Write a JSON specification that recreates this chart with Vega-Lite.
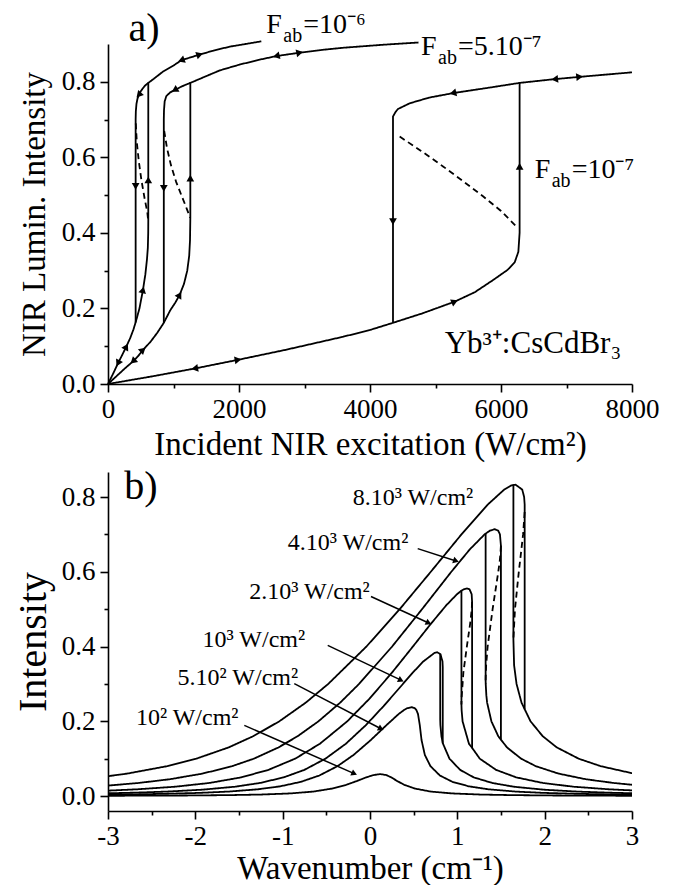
{
"$schema":"https://vega.github.io/schema/vega-lite/v6.json",
"padding":{"left":13,"top":8,"right":5,"bottom":0},
"spacing":5,
"config":{"font":"Liberation Serif","view":{"stroke":null},
"axis":{"grid":false,"domainColor":"black","domainWidth":1.6,"tickColor":"black","tickWidth":1.6,"labelColor":"black","titleColor":"black","labelFontSize":27,"titleFontSize":33,"titleFontWeight":"normal","labelFont":"Liberation Serif","titleFont":"Liberation Serif","labelFlush":false,"labelOverlap":false,"labelPadding":4}},
"datasets":{
"aCurves":[
{"s":"6A","b":"stable","i":0,"x":0,"y":0},{"s":"6A","b":"stable","i":1,"x":80,"y":0.028},{"s":"6A","b":"stable","i":2,"x":153,"y":0.055},{"s":"6A","b":"stable","i":3,"x":220,"y":0.078},{"s":"6A","b":"stable","i":4,"x":280,"y":0.099},{"s":"6A","b":"stable","i":5,"x":340,"y":0.122},{"s":"6A","b":"stable","i":6,"x":390,"y":0.145},{"s":"6A","b":"stable","i":7,"x":433,"y":0.17},{"s":"6A","b":"stable","i":8,"x":480,"y":0.2},{"s":"6A","b":"stable","i":9,"x":534,"y":0.249},{"s":"6A","b":"stable","i":10,"x":570,"y":0.29},{"s":"6A","b":"stable","i":11,"x":595,"y":0.33},{"s":"6A","b":"stable","i":12,"x":608,"y":0.36},{"s":"6A","b":"stable","i":13,"x":614,"y":0.4},{"s":"6A","b":"stable","i":14,"x":615,"y":0.43},{"s":"6A","b":"stable","i":15,"x":615,"y":0.797},{"s":"6A","b":"stable","i":16,"x":700,"y":0.808},{"s":"6A","b":"stable","i":17,"x":840,"y":0.827},{"s":"6A","b":"stable","i":18,"x":1000,"y":0.843},{"s":"6A","b":"stable","i":19,"x":1119,"y":0.857},{"s":"6A","b":"stable","i":20,"x":1400,"y":0.872},{"s":"6A","b":"stable","i":21,"x":1600,"y":0.882},{"s":"6A","b":"stable","i":22,"x":1858,"y":0.893},{"s":"6A","b":"stable","i":23,"x":2100,"y":0.9},{"s":"6A","b":"stable","i":24,"x":2341,"y":0.907},
{"s":"6B","b":"stable","i":0,"x":422,"y":0.163},{"s":"6B","b":"stable","i":1,"x":422,"y":0.7},{"s":"6B","b":"stable","i":2,"x":425,"y":0.722},{"s":"6B","b":"stable","i":3,"x":435,"y":0.742},{"s":"6B","b":"stable","i":4,"x":450,"y":0.755},{"s":"6B","b":"stable","i":5,"x":470,"y":0.765},{"s":"6B","b":"stable","i":6,"x":500,"y":0.775},{"s":"6B","b":"stable","i":7,"x":560,"y":0.789},{"s":"6B","b":"stable","i":8,"x":615,"y":0.797},
{"s":"6C","b":"unstable","i":0,"x":424,"y":0.69},{"s":"6C","b":"unstable","i":1,"x":440,"y":0.64},{"s":"6C","b":"unstable","i":2,"x":470,"y":0.59},{"s":"6C","b":"unstable","i":3,"x":510,"y":0.54},{"s":"6C","b":"unstable","i":4,"x":560,"y":0.49},{"s":"6C","b":"unstable","i":5,"x":600,"y":0.455},{"s":"6C","b":"unstable","i":6,"x":615,"y":0.43},
{"s":"5A","b":"stable","i":0,"x":0,"y":0},{"s":"5A","b":"stable","i":1,"x":150,"y":0.024},{"s":"5A","b":"stable","i":2,"x":250,"y":0.04},{"s":"5A","b":"stable","i":3,"x":382,"y":0.06},{"s":"5A","b":"stable","i":4,"x":460,"y":0.074},{"s":"5A","b":"stable","i":5,"x":534,"y":0.09},{"s":"5A","b":"stable","i":6,"x":650,"y":0.112},{"s":"5A","b":"stable","i":7,"x":750,"y":0.135},{"s":"5A","b":"stable","i":8,"x":852,"y":0.162},{"s":"5A","b":"stable","i":9,"x":950,"y":0.195},{"s":"5A","b":"stable","i":10,"x":1030,"y":0.216},{"s":"5A","b":"stable","i":11,"x":1094,"y":0.236},{"s":"5A","b":"stable","i":12,"x":1160,"y":0.265},{"s":"5A","b":"stable","i":13,"x":1210,"y":0.3},{"s":"5A","b":"stable","i":14,"x":1240,"y":0.34},{"s":"5A","b":"stable","i":15,"x":1252,"y":0.38},{"s":"5A","b":"stable","i":16,"x":1257,"y":0.44},{"s":"5A","b":"stable","i":17,"x":1257,"y":0.797},{"s":"5A","b":"stable","i":18,"x":1500,"y":0.815},{"s":"5A","b":"stable","i":19,"x":1705,"y":0.83},{"s":"5A","b":"stable","i":20,"x":2000,"y":0.845},{"s":"5A","b":"stable","i":21,"x":2300,"y":0.858},{"s":"5A","b":"stable","i":22,"x":2570,"y":0.868},{"s":"5A","b":"stable","i":23,"x":2926,"y":0.877},{"s":"5A","b":"stable","i":24,"x":3300,"y":0.885},{"s":"5A","b":"stable","i":25,"x":3588,"y":0.89},{"s":"5A","b":"stable","i":26,"x":4200,"y":0.898},{"s":"5A","b":"stable","i":27,"x":4740,"y":0.904},
{"s":"5B","b":"stable","i":0,"x":852,"y":0.162},{"s":"5B","b":"stable","i":1,"x":852,"y":0.7},{"s":"5B","b":"stable","i":2,"x":855,"y":0.725},{"s":"5B","b":"stable","i":3,"x":865,"y":0.748},{"s":"5B","b":"stable","i":4,"x":890,"y":0.762},{"s":"5B","b":"stable","i":5,"x":950,"y":0.772},{"s":"5B","b":"stable","i":6,"x":1018,"y":0.778},{"s":"5B","b":"stable","i":7,"x":1130,"y":0.788},{"s":"5B","b":"stable","i":8,"x":1257,"y":0.797},
{"s":"5C","b":"unstable","i":0,"x":858,"y":0.67},{"s":"5C","b":"unstable","i":1,"x":900,"y":0.625},{"s":"5C","b":"unstable","i":2,"x":960,"y":0.58},{"s":"5C","b":"unstable","i":3,"x":1040,"y":0.535},{"s":"5C","b":"unstable","i":4,"x":1120,"y":0.5},{"s":"5C","b":"unstable","i":5,"x":1200,"y":0.465},{"s":"5C","b":"unstable","i":6,"x":1255,"y":0.44},
{"s":"7A","b":"stable","i":0,"x":0,"y":0},{"s":"7A","b":"stable","i":1,"x":700,"y":0.021},{"s":"7A","b":"stable","i":2,"x":1324,"y":0.041},{"s":"7A","b":"stable","i":3,"x":1985,"y":0.064},{"s":"7A","b":"stable","i":4,"x":2700,"y":0.09},{"s":"7A","b":"stable","i":5,"x":3588,"y":0.125},{"s":"7A","b":"stable","i":6,"x":4000,"y":0.143},{"s":"7A","b":"stable","i":7,"x":4351,"y":0.162},{"s":"7A","b":"stable","i":8,"x":4800,"y":0.187},{"s":"7A","b":"stable","i":9,"x":5293,"y":0.218},{"s":"7A","b":"stable","i":10,"x":5600,"y":0.243},{"s":"7A","b":"stable","i":11,"x":5878,"y":0.275},{"s":"7A","b":"stable","i":12,"x":6100,"y":0.302},{"s":"7A","b":"stable","i":13,"x":6209,"y":0.322},{"s":"7A","b":"stable","i":14,"x":6265,"y":0.35},{"s":"7A","b":"stable","i":15,"x":6284,"y":0.4},{"s":"7A","b":"stable","i":16,"x":6284,"y":0.797},{"s":"7A","b":"stable","i":17,"x":6820,"y":0.807},{"s":"7A","b":"stable","i":18,"x":7200,"y":0.813},{"s":"7A","b":"stable","i":19,"x":7600,"y":0.819},{"s":"7A","b":"stable","i":20,"x":8000,"y":0.825},
{"s":"7B","b":"stable","i":0,"x":4351,"y":0.162},{"s":"7B","b":"stable","i":1,"x":4351,"y":0.708},{"s":"7B","b":"stable","i":2,"x":4390,"y":0.72},{"s":"7B","b":"stable","i":3,"x":4427,"y":0.728},{"s":"7B","b":"stable","i":4,"x":4606,"y":0.743},{"s":"7B","b":"stable","i":5,"x":4900,"y":0.758},{"s":"7B","b":"stable","i":6,"x":5267,"y":0.77},{"s":"7B","b":"stable","i":7,"x":5878,"y":0.786},{"s":"7B","b":"stable","i":8,"x":6284,"y":0.797},
{"s":"7C","b":"unstable","i":0,"x":4453,"y":0.655},{"s":"7C","b":"unstable","i":1,"x":4780,"y":0.617},{"s":"7C","b":"unstable","i":2,"x":5115,"y":0.576},{"s":"7C","b":"unstable","i":3,"x":5420,"y":0.537},{"s":"7C","b":"unstable","i":4,"x":5725,"y":0.497},{"s":"7C","b":"unstable","i":5,"x":6000,"y":0.458},{"s":"7C","b":"unstable","i":6,"x":6234,"y":0.417}
],
"aArrows":[
{"x":153,"y":0.055,"dir":206},{"x":280,"y":0.099,"dir":28},{"x":534,"y":0.249,"dir":14},{"x":422,"y":0.523,"dir":180},{"x":615,"y":0.54,"dir":0},{"x":470,"y":0.765,"dir":222},{"x":1119,"y":0.857,"dir":250},{"x":1400,"y":0.872,"dir":72},
{"x":382,"y":0.06,"dir":228},{"x":534,"y":0.09,"dir":48},{"x":1094,"y":0.236,"dir":30},{"x":852,"y":0.518,"dir":180},{"x":1257,"y":0.545,"dir":0},{"x":1018,"y":0.778,"dir":240},{"x":2570,"y":0.868,"dir":257},{"x":2926,"y":0.877,"dir":79},
{"x":1324,"y":0.041,"dir":260},{"x":1985,"y":0.064,"dir":80},{"x":5293,"y":0.218,"dir":67},{"x":4351,"y":0.43,"dir":180},{"x":6284,"y":0.576,"dir":0},{"x":5267,"y":0.77,"dir":257},{"x":6820,"y":0.807,"dir":264},{"x":7200,"y":0.813,"dir":84}
],
"aF":[{"x":2417,"y":0.929,"t":"=10⁻⁶"},{"x":4779,"y":0.872,"t":"=5.10⁻⁷"},{"x":6514,"y":0.545,"t":"=10⁻⁷"}],
"bCurves":[
{"s":"8A","b":"stable","i":0,"x":-3.1,"y":0.05},{"s":"8A","b":"stable","i":1,"x":-2.782,"y":0.06},{"s":"8A","b":"stable","i":2,"x":-2.321,"y":0.08},{"s":"8A","b":"stable","i":3,"x":-1.989,"y":0.1},{"s":"8A","b":"stable","i":4,"x":-1.62,"y":0.13},{"s":"8A","b":"stable","i":5,"x":-1.338,"y":0.16},{"s":"8A","b":"stable","i":6,"x":-1.038,"y":0.2},{"s":"8A","b":"stable","i":7,"x":-0.735,"y":0.25},{"s":"8A","b":"stable","i":8,"x":-0.478,"y":0.3},{"s":"8A","b":"stable","i":9,"x":-0.041,"y":0.4},{"s":"8A","b":"stable","i":10,"x":0.34,"y":0.5},{"s":"8A","b":"stable","i":11,"x":0.696,"y":0.6},{"s":"8A","b":"stable","i":12,"x":1.047,"y":0.7},{"s":"8A","b":"stable","i":13,"x":1.349,"y":0.78},{"s":"8A","b":"stable","i":14,"x":1.537,"y":0.82},{"s":"8A","b":"stable","i":15,"x":1.609,"y":0.83},{"s":"8A","b":"stable","i":16,"x":1.632,"y":0.832},{"s":"8A","b":"stable","i":17,"x":1.667,"y":0.833},{"s":"8A","b":"stable","i":18,"x":1.743,"y":0.82},{"s":"8A","b":"stable","i":19,"x":1.765,"y":0.8},{"s":"8A","b":"stable","i":20,"x":1.771,"y":0.78},{"s":"8A","b":"stable","i":21,"x":1.771,"y":0.76},{"s":"8A","b":"stable","i":22,"x":1.771,"y":0.2325},{"s":"8A","b":"stable","i":23,"x":1.838,"y":0.2},{"s":"8A","b":"stable","i":24,"x":1.978,"y":0.16},{"s":"8A","b":"stable","i":25,"x":2.14,"y":0.13},{"s":"8A","b":"stable","i":26,"x":2.389,"y":0.1},{"s":"8A","b":"stable","i":27,"x":2.641,"y":0.08},{"s":"8A","b":"stable","i":28,"x":3.022,"y":0.06},
{"s":"8B","b":"stable","i":0,"x":1.642,"y":0.8325},{"s":"8B","b":"stable","i":1,"x":1.642,"y":0.42},{"s":"8B","b":"stable","i":2,"x":1.65,"y":0.35},{"s":"8B","b":"stable","i":3,"x":1.678,"y":0.3},{"s":"8B","b":"stable","i":4,"x":1.735,"y":0.25},{"s":"8B","b":"stable","i":5,"x":1.771,"y":0.2325},
{"s":"8C","b":"unstable","i":0,"x":1.771,"y":0.76},{"s":"8C","b":"unstable","i":1,"x":1.753,"y":0.7},{"s":"8C","b":"unstable","i":2,"x":1.704,"y":0.6},{"s":"8C","b":"unstable","i":3,"x":1.66,"y":0.5},{"s":"8C","b":"unstable","i":4,"x":1.642,"y":0.42},
{"s":"4A","b":"stable","i":0,"x":-3.001,"y":0.028},{"s":"4A","b":"stable","i":1,"x":-2.65,"y":0.035},{"s":"4A","b":"stable","i":2,"x":-2.291,"y":0.045},{"s":"4A","b":"stable","i":3,"x":-1.919,"y":0.06},{"s":"4A","b":"stable","i":4,"x":-1.578,"y":0.08},{"s":"4A","b":"stable","i":5,"x":-1.33,"y":0.1},{"s":"4A","b":"stable","i":6,"x":-1.049,"y":0.13},{"s":"4A","b":"stable","i":7,"x":-0.829,"y":0.16},{"s":"4A","b":"stable","i":8,"x":-0.59,"y":0.2},{"s":"4A","b":"stable","i":9,"x":-0.341,"y":0.25},{"s":"4A","b":"stable","i":10,"x":-0.125,"y":0.3},{"s":"4A","b":"stable","i":11,"x":0.253,"y":0.4},{"s":"4A","b":"stable","i":12,"x":0.596,"y":0.5},{"s":"4A","b":"stable","i":13,"x":0.931,"y":0.6},{"s":"4A","b":"stable","i":14,"x":1.143,"y":0.66},{"s":"4A","b":"stable","i":15,"x":1.312,"y":0.7},{"s":"4A","b":"stable","i":16,"x":1.372,"y":0.71},{"s":"4A","b":"stable","i":17,"x":1.429,"y":0.714},{"s":"4A","b":"stable","i":18,"x":1.468,"y":0.71},{"s":"4A","b":"stable","i":19,"x":1.488,"y":0.7},{"s":"4A","b":"stable","i":20,"x":1.499,"y":0.67},{"s":"4A","b":"stable","i":21,"x":1.499,"y":0.151},{"s":"4A","b":"stable","i":22,"x":1.569,"y":0.13},{"s":"4A","b":"stable","i":23,"x":1.73,"y":0.1},{"s":"4A","b":"stable","i":24,"x":1.898,"y":0.08},{"s":"4A","b":"stable","i":25,"x":2.159,"y":0.06},{"s":"4A","b":"stable","i":26,"x":2.471,"y":0.045},{"s":"4A","b":"stable","i":27,"x":2.79,"y":0.035},{"s":"4A","b":"stable","i":28,"x":3.008,"y":0.03},
{"s":"4B","b":"stable","i":0,"x":1.324,"y":0.702},{"s":"4B","b":"stable","i":1,"x":1.324,"y":0.31},{"s":"4B","b":"stable","i":2,"x":1.325,"y":0.3},{"s":"4B","b":"stable","i":3,"x":1.332,"y":0.27},{"s":"4B","b":"stable","i":4,"x":1.341,"y":0.25},{"s":"4B","b":"stable","i":5,"x":1.39,"y":0.2},{"s":"4B","b":"stable","i":6,"x":1.469,"y":0.16},{"s":"4B","b":"stable","i":7,"x":1.499,"y":0.151},
{"s":"4C","b":"unstable","i":0,"x":1.499,"y":0.67},{"s":"4C","b":"unstable","i":1,"x":1.494,"y":0.65},{"s":"4C","b":"unstable","i":2,"x":1.486,"y":0.63},{"s":"4C","b":"unstable","i":3,"x":1.469,"y":0.6},{"s":"4C","b":"unstable","i":4,"x":1.404,"y":0.5},{"s":"4C","b":"unstable","i":5,"x":1.347,"y":0.4},{"s":"4C","b":"unstable","i":6,"x":1.33,"y":0.35},{"s":"4C","b":"unstable","i":7,"x":1.325,"y":0.32},{"s":"4C","b":"unstable","i":8,"x":1.324,"y":0.31},
{"s":"2A","b":"stable","i":0,"x":-3.05,"y":0.014},{"s":"2A","b":"stable","i":1,"x":-2.669,"y":0.018},{"s":"2A","b":"stable","i":2,"x":-2.23,"y":0.025},{"s":"2A","b":"stable","i":3,"x":-1.839,"y":0.035},{"s":"2A","b":"stable","i":4,"x":-1.474,"y":0.05},{"s":"2A","b":"stable","i":5,"x":-1.164,"y":0.07},{"s":"2A","b":"stable","i":6,"x":-0.857,"y":0.1},{"s":"2A","b":"stable","i":7,"x":-0.573,"y":0.14},{"s":"2A","b":"stable","i":8,"x":-0.26,"y":0.2},{"s":"2A","b":"stable","i":9,"x":-0.008,"y":0.26},{"s":"2A","b":"stable","i":10,"x":0.251,"y":0.33},{"s":"2A","b":"stable","i":11,"x":0.491,"y":0.4},{"s":"2A","b":"stable","i":12,"x":0.694,"y":0.46},{"s":"2A","b":"stable","i":13,"x":0.872,"y":0.51},{"s":"2A","b":"stable","i":14,"x":0.996,"y":0.54},{"s":"2A","b":"stable","i":15,"x":1.05,"y":0.55},{"s":"2A","b":"stable","i":16,"x":1.072,"y":0.553},{"s":"2A","b":"stable","i":17,"x":1.111,"y":0.5556},{"s":"2A","b":"stable","i":18,"x":1.14,"y":0.553},{"s":"2A","b":"stable","i":19,"x":1.164,"y":0.54},{"s":"2A","b":"stable","i":20,"x":1.169,"y":0.52},{"s":"2A","b":"stable","i":21,"x":1.169,"y":0.129},{"s":"2A","b":"stable","i":22,"x":1.257,"y":0.1},{"s":"2A","b":"stable","i":23,"x":1.444,"y":0.07},{"s":"2A","b":"stable","i":24,"x":1.674,"y":0.05},{"s":"2A","b":"stable","i":25,"x":1.979,"y":0.035},{"s":"2A","b":"stable","i":26,"x":2.33,"y":0.025},{"s":"2A","b":"stable","i":27,"x":2.741,"y":0.018},{"s":"2A","b":"stable","i":28,"x":3.107,"y":0.014},
{"s":"2B","b":"stable","i":0,"x":1.047,"y":0.55},{"s":"2B","b":"stable","i":1,"x":1.047,"y":0.245},{"s":"2B","b":"stable","i":2,"x":1.049,"y":0.23},{"s":"2B","b":"stable","i":3,"x":1.06,"y":0.2},{"s":"2B","b":"stable","i":4,"x":1.133,"y":0.14},{"s":"2B","b":"stable","i":5,"x":1.169,"y":0.129},
{"s":"2C","b":"unstable","i":0,"x":1.169,"y":0.52},{"s":"2C","b":"unstable","i":1,"x":1.165,"y":0.5},{"s":"2C","b":"unstable","i":2,"x":1.156,"y":0.48},{"s":"2C","b":"unstable","i":3,"x":1.146,"y":0.46},{"s":"2C","b":"unstable","i":4,"x":1.109,"y":0.4},{"s":"2C","b":"unstable","i":5,"x":1.069,"y":0.33},{"s":"2C","b":"unstable","i":6,"x":1.048,"y":0.26},{"s":"2C","b":"unstable","i":7,"x":1.047,"y":0.245},
{"s":"1A","b":"stable","i":0,"x":-3.076,"y":0.007},{"s":"1A","b":"stable","i":1,"x":-2.7,"y":0.009},{"s":"1A","b":"stable","i":2,"x":-2.32,"y":0.012},{"s":"1A","b":"stable","i":3,"x":-1.922,"y":0.017},{"s":"1A","b":"stable","i":4,"x":-1.545,"y":0.025},{"s":"1A","b":"stable","i":5,"x":-1.26,"y":0.035},{"s":"1A","b":"stable","i":6,"x":-0.988,"y":0.05},{"s":"1A","b":"stable","i":7,"x":-0.752,"y":0.07},{"s":"1A","b":"stable","i":8,"x":-0.51,"y":0.1},{"s":"1A","b":"stable","i":9,"x":-0.276,"y":0.14},{"s":"1A","b":"stable","i":10,"x":-0.046,"y":0.19},{"s":"1A","b":"stable","i":11,"x":0.153,"y":0.24},{"s":"1A","b":"stable","i":12,"x":0.34,"y":0.29},{"s":"1A","b":"stable","i":13,"x":0.489,"y":0.33},{"s":"1A","b":"stable","i":14,"x":0.61,"y":0.36},{"s":"1A","b":"stable","i":15,"x":0.739,"y":0.383},{"s":"1A","b":"stable","i":16,"x":0.769,"y":0.3846},{"s":"1A","b":"stable","i":17,"x":0.806,"y":0.38},{"s":"1A","b":"stable","i":18,"x":0.83,"y":0.36},{"s":"1A","b":"stable","i":19,"x":0.833,"y":0.345},{"s":"1A","b":"stable","i":20,"x":0.833,"y":0.142},{"s":"1A","b":"stable","i":21,"x":0.836,"y":0.14},{"s":"1A","b":"stable","i":22,"x":0.91,"y":0.1},{"s":"1A","b":"stable","i":23,"x":1.032,"y":0.07},{"s":"1A","b":"stable","i":24,"x":1.188,"y":0.05},{"s":"1A","b":"stable","i":25,"x":1.4,"y":0.035},{"s":"1A","b":"stable","i":26,"x":1.645,"y":0.025},{"s":"1A","b":"stable","i":27,"x":1.99,"y":0.017},{"s":"1A","b":"stable","i":28,"x":2.368,"y":0.012},{"s":"1A","b":"stable","i":29,"x":2.736,"y":0.009},{"s":"1A","b":"stable","i":30,"x":3.104,"y":0.007},
{"s":"1B","b":"stable","i":0,"x":0.804,"y":0.38},{"s":"1B","b":"stable","i":1,"x":0.804,"y":0.205},{"s":"1B","b":"stable","i":2,"x":0.806,"y":0.19},{"s":"1B","b":"stable","i":3,"x":0.818,"y":0.16},{"s":"1B","b":"stable","i":4,"x":0.833,"y":0.142},
{"s":"5hA","b":"stable","i":0,"x":-3.088,"y":0.0035},{"s":"5hA","b":"stable","i":1,"x":-2.715,"y":0.0045},{"s":"5hA","b":"stable","i":2,"x":-2.339,"y":0.006},{"s":"5hA","b":"stable","i":3,"x":-1.948,"y":0.0085},{"s":"5hA","b":"stable","i":4,"x":-1.617,"y":0.012},{"s":"5hA","b":"stable","i":5,"x":-1.286,"y":0.018},{"s":"5hA","b":"stable","i":6,"x":-1.028,"y":0.026},{"s":"5hA","b":"stable","i":7,"x":-0.792,"y":0.038},{"s":"5hA","b":"stable","i":8,"x":-0.58,"y":0.055},{"s":"5hA","b":"stable","i":9,"x":-0.372,"y":0.08},{"s":"5hA","b":"stable","i":10,"x":-0.188,"y":0.11},{"s":"5hA","b":"stable","i":11,"x":0.01,"y":0.15},{"s":"5hA","b":"stable","i":12,"x":0.19,"y":0.19},{"s":"5hA","b":"stable","i":13,"x":0.331,"y":0.22},{"s":"5hA","b":"stable","i":14,"x":0.389,"y":0.23},{"s":"5hA","b":"stable","i":15,"x":0.427,"y":0.235},{"s":"5hA","b":"stable","i":16,"x":0.476,"y":0.238},{"s":"5hA","b":"stable","i":17,"x":0.513,"y":0.235},{"s":"5hA","b":"stable","i":18,"x":0.531,"y":0.23},{"s":"5hA","b":"stable","i":19,"x":0.549,"y":0.22},{"s":"5hA","b":"stable","i":20,"x":0.57,"y":0.19},{"s":"5hA","b":"stable","i":21,"x":0.59,"y":0.15},{"s":"5hA","b":"stable","i":22,"x":0.628,"y":0.11},{"s":"5hA","b":"stable","i":23,"x":0.692,"y":0.08},{"s":"5hA","b":"stable","i":24,"x":0.8,"y":0.055},{"s":"5hA","b":"stable","i":25,"x":0.944,"y":0.038},{"s":"5hA","b":"stable","i":26,"x":1.132,"y":0.026},{"s":"5hA","b":"stable","i":27,"x":1.358,"y":0.018},{"s":"5hA","b":"stable","i":28,"x":1.665,"y":0.012},{"s":"5hA","b":"stable","i":29,"x":1.982,"y":0.0085},{"s":"5hA","b":"stable","i":30,"x":2.363,"y":0.006},{"s":"5hA","b":"stable","i":31,"x":2.733,"y":0.0045},{"s":"5hA","b":"stable","i":32,"x":3.102,"y":0.0035},
{"s":"1hA","b":"stable","i":0,"x":-3.1,"y":0.0007},{"s":"1hA","b":"stable","i":1,"x":-2.585,"y":0.001},{"s":"1hA","b":"stable","i":2,"x":-2.1,"y":0.0015},{"s":"1hA","b":"stable","i":3,"x":-1.61,"y":0.0025},{"s":"1hA","b":"stable","i":4,"x":-1.251,"y":0.004},{"s":"1hA","b":"stable","i":5,"x":-0.912,"y":0.007},{"s":"1hA","b":"stable","i":6,"x":-0.648,"y":0.012},{"s":"1hA","b":"stable","i":7,"x":-0.434,"y":0.02},{"s":"1hA","b":"stable","i":8,"x":-0.273,"y":0.03},{"s":"1hA","b":"stable","i":9,"x":-0.153,"y":0.04},{"s":"1hA","b":"stable","i":10,"x":-0.043,"y":0.05},{"s":"1hA","b":"stable","i":11,"x":0.036,"y":0.056},{"s":"1hA","b":"stable","i":12,"x":0.118,"y":0.0588},{"s":"1hA","b":"stable","i":13,"x":0.188,"y":0.056},{"s":"1hA","b":"stable","i":14,"x":0.243,"y":0.05},{"s":"1hA","b":"stable","i":15,"x":0.313,"y":0.04},{"s":"1hA","b":"stable","i":16,"x":0.393,"y":0.03},{"s":"1hA","b":"stable","i":17,"x":0.514,"y":0.02},{"s":"1hA","b":"stable","i":18,"x":0.696,"y":0.012},{"s":"1hA","b":"stable","i":19,"x":0.94,"y":0.007},{"s":"1hA","b":"stable","i":20,"x":1.267,"y":0.004},{"s":"1hA","b":"stable","i":21,"x":1.62,"y":0.0025},{"s":"1hA","b":"stable","i":22,"x":2.106,"y":0.0015},{"s":"1hA","b":"stable","i":23,"x":2.589,"y":0.001},{"s":"1hA","b":"stable","i":24,"x":3.1,"y":0.0007}
],
"bArrows":[
{"x":0.546,"y":0.662,"x2":0.985,"y2":0.629,"dir":108},
{"x":0.011,"y":0.534,"x2":0.672,"y2":0.463,"dir":115},
{"x":-0.484,"y":0.403,"x2":0.355,"y2":0.31,"dir":115},
{"x":-0.867,"y":0.301,"x2":0.126,"y2":0.18,"dir":117},
{"x":-1.439,"y":0.189,"x2":-0.18,"y2":0.06,"dir":114}
],
"bLabels":[
{"x":-0.198,"y":0.778,"t":"8.10³ W/cm²"},
{"x":-0.942,"y":0.657,"t":"4.10³ W/cm²"},
{"x":-1.383,"y":0.528,"t":"2.10³ W/cm²"},
{"x":-1.917,"y":0.399,"t":"10³ W/cm²"},
{"x":-2.203,"y":0.296,"t":"5.10² W/cm²"},
{"x":-2.68,"y":0.189,"t":"10² W/cm²"}
]
},
"vconcat":[
{
"width":524,"height":340,
"encoding":{
"x":{"field":"x","type":"quantitative","scale":{"domain":[0,8000],"nice":false,"zero":false},
"axis":{"title":"Incident NIR excitation (W/cm²)","values":[0,1000,2000,3000,4000,5000,6000,7000,8000],"labelExpr":"datum.value % 2000 === 0 ? toString(datum.value) : ''","tickSize":{"condition":{"test":"datum.value % 2000 === 0","value":8},"value":4},"titlePadding":6}},
"y":{"field":"y","type":"quantitative","scale":{"domain":[0,0.9],"nice":false,"zero":false},
"axis":{"title":"NIR Lumin. Intensity","values":[0,0.1,0.2,0.3,0.4,0.5,0.6,0.7,0.8],"labelExpr":"round(datum.value*10) % 2 === 0 ? format(datum.value, '.1f') : ''","tickSize":{"condition":{"test":"round(datum.value*10) % 2 === 0","value":8},"value":4},"titlePadding":10,"labelPadding":5}}
},
"layer":[
{"data":{"name":"aCurves"},"mark":{"type":"line","color":"black","strokeWidth":1.8},
"encoding":{"detail":{"field":"s"},"order":{"field":"i","type":"quantitative"},"strokeDash":{"field":"b","type":"nominal","scale":{"domain":["stable","unstable"],"range":[[1,0],[6,4]]},"legend":null}}},
{"data":{"name":"aArrows"},"mark":{"type":"point","shape":"triangle-up","filled":true,"color":"black","size":60,"opacity":1},
"encoding":{"angle":{"field":"dir","type":"quantitative","scale":null}}},
{"data":{"values":[{"x":550,"y":0.94,"t":"a)"}]},"mark":{"type":"text","fontSize":40,"align":"center","baseline":"middle","color":"black"},"encoding":{"text":{"field":"t"}}},
{"data":{"name":"aF"},"mark":{"type":"text","text":"F","fontSize":28,"align":"left","baseline":"alphabetic","color":"black"}},
{"data":{"name":"aF"},"mark":{"type":"text","text":"ab","fontSize":20,"align":"left","baseline":"alphabetic","dx":17,"dy":9,"color":"black"}},
{"data":{"name":"aF"},"mark":{"type":"text","fontSize":28,"align":"left","baseline":"alphabetic","dx":37,"color":"black"},"encoding":{"text":{"field":"t"}}},
{"data":{"values":[{"x":5140,"y":0.082,"t":"Yb³⁺:CsCdBr₃"}]},"mark":{"type":"text","fontSize":31,"align":"left","baseline":"alphabetic","color":"black"},"encoding":{"text":{"field":"t"}}}
]
},
{
"width":524,"height":339,
"encoding":{
"x":{"field":"x","type":"quantitative","scale":{"domain":[-3,3],"nice":false,"zero":false},
"axis":{"title":"Wavenumber (cm⁻¹)","titleFontSize":33,"values":[-3,-2.5,-2,-1.5,-1,-0.5,0,0.5,1,1.5,2,2.5,3],"labelExpr":"datum.value % 1 === 0 ? toString(datum.value) : ''","tickSize":{"condition":{"test":"datum.value % 1 === 0","value":8},"value":4},"titlePadding":3}},
"y":{"field":"y","type":"quantitative","scale":{"domain":[-0.04,0.867],"nice":false,"zero":false},
"axis":{"title":"Intensity","titleFontSize":40,"values":[0,0.1,0.2,0.3,0.4,0.5,0.6,0.7,0.8],"labelExpr":"round(datum.value*10) % 2 === 0 ? format(datum.value, '.1f') : ''","tickSize":{"condition":{"test":"round(datum.value*10) % 2 === 0","value":8},"value":4},"titlePadding":8,"labelPadding":5}}
},
"layer":[
{"data":{"name":"bCurves"},"mark":{"type":"line","color":"black","strokeWidth":1.8,"clip":true},
"encoding":{"detail":{"field":"s"},"order":{"field":"i","type":"quantitative"},"strokeDash":{"field":"b","type":"nominal","scale":{"domain":["stable","unstable"],"range":[[1,0],[5,4]]},"legend":null}}},
{"data":{"name":"bArrows"},"mark":{"type":"rule","color":"black","strokeWidth":1.5},"encoding":{"x2":{"field":"x2"},"y2":{"field":"y2"}}},
{"data":{"name":"bArrows"},"mark":{"type":"point","shape":"triangle-up","filled":true,"color":"black","size":45,"opacity":1},
"encoding":{"x":{"field":"x2","type":"quantitative"},"y":{"field":"y2","type":"quantitative"},"angle":{"field":"dir","type":"quantitative","scale":null}}},
{"data":{"values":[{"x":-2.622,"y":0.828,"t":"b)"}]},"mark":{"type":"text","fontSize":40,"align":"center","baseline":"middle","color":"black"},"encoding":{"text":{"field":"t"}}},
{"data":{"name":"bLabels"},"mark":{"type":"text","fontSize":24,"align":"left","baseline":"alphabetic","color":"black"},"encoding":{"text":{"field":"t"}}}
]
}
]
}
